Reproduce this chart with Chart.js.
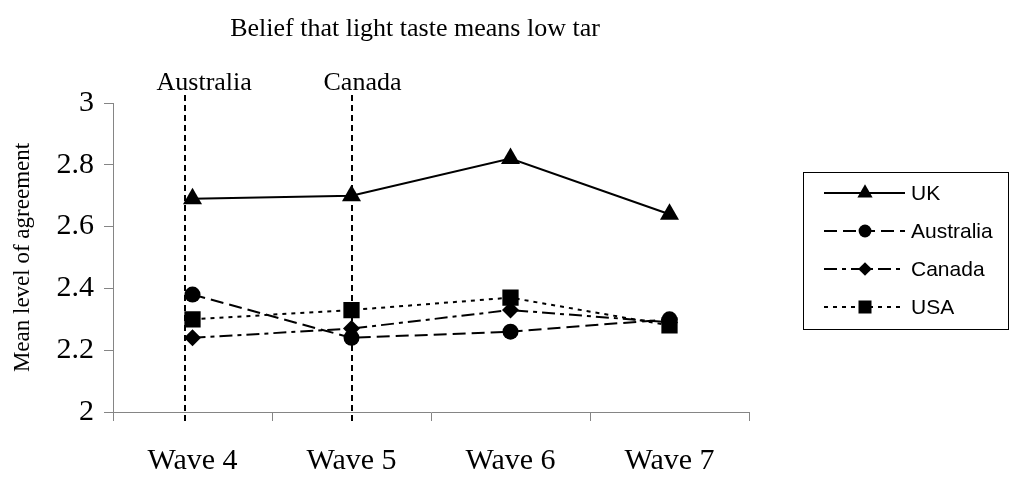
<!DOCTYPE html>
<html>
<head>
<meta charset="utf-8">
<script src="https://cdn.jsdelivr.net/npm/chart.js@4.4.1/dist/chart.umd.min.js"></script>
<style>
  html, body { margin: 0; padding: 0; background: #fff; }
  #wrap { width: 1012px; height: 482px; position: relative; }
</style>
</head>
<body>
<div id="wrap"><canvas id="c"></canvas></div>
<script>
// Survey waves and mean agreement per country
const waves = ['Wave 4', 'Wave 5', 'Wave 6', 'Wave 7'];
const ukValues = [2.69, 2.70, 2.82, 2.64];
const australiaValues = [2.38, 2.24, 2.26, 2.30];
const canadaValues = [2.24, 2.27, 2.33, 2.29];
const usaValues = [2.30, 2.33, 2.37, 2.28];
const yTickValues = [2, 2.2, 2.4, 2.6, 2.8, 3];

// Policy change markers: country name and position on the wave axis (category index)
const policyNames = ['Australia', 'Canada'];
const policyPositions = [-0.05, 1];

const chartTitle = 'Belief that light taste means low tar';
const yAxisTitle = 'Mean level of agreement';

const SERIF = '"Liberation Serif", "Times New Roman", serif';
const SANS = '"Liberation Sans", Arial, sans-serif';
const AXIS_GREY = '#858585';

const seriesStyles = [
  { label: 'UK', data: ukValues, dash: [], pointStyle: 'triangle', radius: 11 },
  { label: 'Australia', data: australiaValues, dash: [13, 6], pointStyle: 'circle', radius: 8 },
  { label: 'Canada', data: canadaValues, dash: [13, 5, 4, 5], pointStyle: 'rectRot', radius: 8.5 },
  { label: 'USA', data: usaValues, dash: [4, 5], pointStyle: 'rect', radius: 11.5 }
];

const datasets = seriesStyles.map(s => ({
  label: s.label,
  data: s.data,
  borderColor: '#000',
  backgroundColor: '#000',
  borderWidth: 2,
  borderDash: s.dash,
  tension: 0,
  pointStyle: s.pointStyle,
  pointRadius: s.radius,
  pointHoverRadius: s.radius,
  pointBackgroundColor: '#000',
  pointBorderColor: '#000',
  pointBorderWidth: 0
}));

// Vertical dashed markers with their country labels, plus the chart title
const annotationPlugin = {
  id: 'policyMarkers',
  beforeDatasetsDraw(chart) {
    const { ctx, scales: { x, y } } = chart;
    ctx.save();
    ctx.strokeStyle = '#000';
    ctx.lineWidth = 2;
    ctx.setLineDash([6, 4]);
    policyPositions.forEach((pos) => {
      const px = Math.round(x.getPixelForValue(pos));
      ctx.beginPath();
      ctx.moveTo(px, y.getPixelForValue(3) - 8);
      ctx.lineTo(px, y.getPixelForValue(2) + 9);
      ctx.stroke();
    });
    ctx.restore();
  },
  afterDraw(chart) {
    const { ctx, scales: { x, y } } = chart;
    ctx.save();
    ctx.fillStyle = '#000';
    ctx.font = '26px ' + SERIF;
    ctx.textBaseline = 'alphabetic';
    ctx.textAlign = 'left';
    policyNames.forEach((name, i) => {
      const px = x.getPixelForValue(policyPositions[i]);
      ctx.fillText(name, px - 28, y.getPixelForValue(3) - 13);
    });
    ctx.font = '26px ' + SERIF;
    ctx.textAlign = 'center';
    ctx.fillText(chartTitle, 415, 36);
    ctx.restore();
  }
};

// Boxed legend with line samples and markers
const legendPlugin = {
  id: 'boxLegend',
  afterDraw(chart) {
    const { ctx } = chart;
    const box = { left: 803, top: 172, right: 1008, bottom: 329 };
    ctx.save();
    ctx.strokeStyle = '#000';
    ctx.lineWidth = 1;
    ctx.strokeRect(box.left + 0.5, box.top + 0.5, box.right - box.left, box.bottom - box.top);
    const rowGap = 38;
    chart.data.datasets.forEach((ds, i) => {
      const cy = box.top + 21 + i * rowGap;
      ctx.strokeStyle = '#000';
      ctx.lineWidth = 2;
      ctx.setLineDash(ds.borderDash);
      ctx.beginPath();
      ctx.moveTo(824, cy);
      ctx.lineTo(905, cy);
      ctx.stroke();
      ctx.setLineDash([]);
      ctx.fillStyle = '#000';
      Chart.helpers.drawPoint(ctx, {
        pointStyle: ds.pointStyle,
        radius: ds.pointRadius * 0.8,
        rotation: 0,
        borderWidth: 0
      }, 865, cy);
      ctx.font = '21px ' + SANS;
      ctx.textAlign = 'left';
      ctx.textBaseline = 'middle';
      ctx.fillText(ds.label, 911, cy + 1);
    });
    ctx.restore();
  }
};

new Chart(document.getElementById('c'), {
  type: 'line',
  data: { labels: waves, datasets },
  options: {
    responsive: true,
    maintainAspectRatio: false,
    animation: false,
    layout: { padding: { left: 0, top: 103, right: 263, bottom: 0 } },
    plugins: {
      legend: { display: false },
      title: { display: false },
      tooltip: { enabled: false }
    },
    scales: {
      x: {
        type: 'category',
        offset: true,
        grid: {
          offset: true,
          drawOnChartArea: false,
          drawTicks: true,
          tickLength: 9,
          color: AXIS_GREY,
          lineWidth: 1
        },
        border: { color: AXIS_GREY, width: 1 },
        ticks: {
          color: '#000',
          font: { family: SERIF, size: 30 },
          padding: 22,
          maxRotation: 0
        },
        afterFit(scale) { scale.height = 70; }
      },
      y: {
        min: 2,
        max: 3,
        grid: {
          drawOnChartArea: false,
          drawTicks: true,
          tickLength: 9,
          color: AXIS_GREY,
          lineWidth: 1
        },
        border: { color: AXIS_GREY, width: 1 },
        afterBuildTicks(scale) {
          scale.ticks = yTickValues.map(v => ({ value: v }));
        },
        ticks: {
          color: '#000',
          font: { family: SERIF, size: 30 },
          padding: 10,
          callback: v => String(v)
        },
        title: {
          display: true,
          text: yAxisTitle,
          color: '#000',
          font: { family: SERIF, size: 23 },
          padding: { top: 9, bottom: 0 }
        },
        afterFit(scale) { scale.width = 113; }
      }
    }
  },
  plugins: [annotationPlugin, legendPlugin]
});
</script>
</body>
</html>
